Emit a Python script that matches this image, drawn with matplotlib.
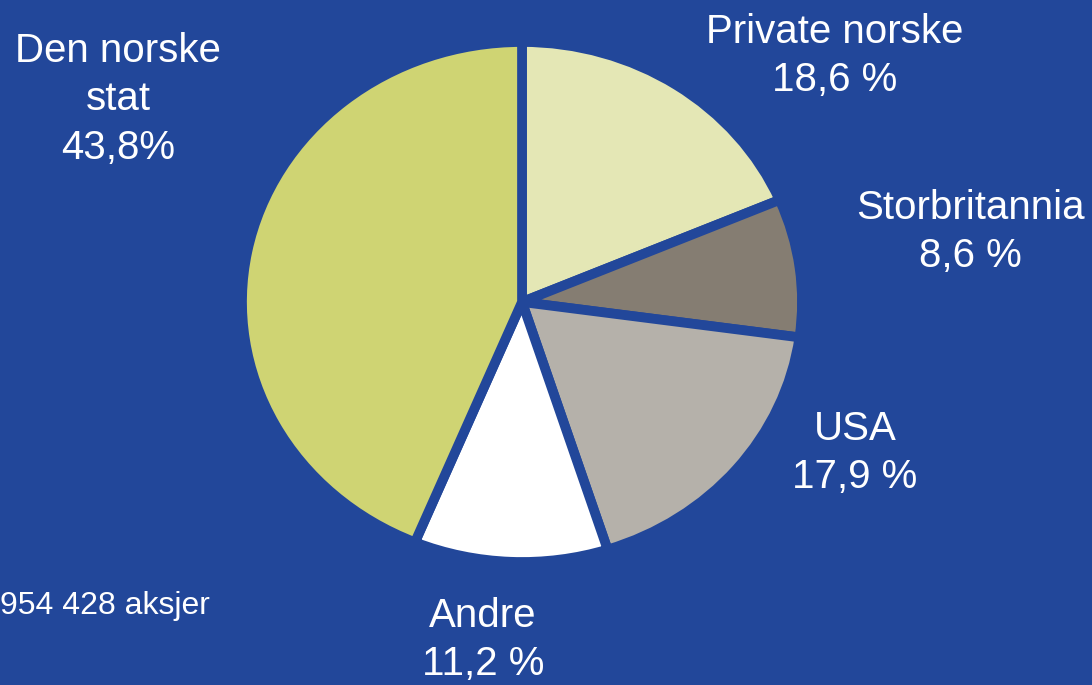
import matplotlib.pyplot as plt

# ownership shares, clockwise from the top
owners = ['Private norske', 'Storbritannia', 'USA', 'Andre', 'Den norske\nstat']
shares = [18.6, 8.6, 17.9, 11.2, 43.8]
share_labels = ['18,6 %', '8,6 %', '17,9 %', '11,2 %', '43,8%']
colors = ['#E4E7B5', '#857D72', '#B5B1AA', '#FFFFFF', '#CFD473']
footnote = '954 428 aksjer'

bg = '#22479A'
W, H = 1092, 685

fig = plt.figure(figsize=(W / 100, H / 100), dpi=100)
fig.patch.set_facecolor(bg)
plt.rcParams['font.family'] = ['Liberation Sans', 'DejaVu Sans']

# the pie is drawn as an ellipse, slightly wider than tall
cx, cy, rx, ry = 522, 302, 280, 260
ax = fig.add_axes([(cx - rx) / W, (H - cy - ry) / H, 2 * rx / W, 2 * ry / H])
ax.pie(shares, colors=colors, startangle=90, counterclock=False,
       wedgeprops=dict(edgecolor=bg, linewidth=7, joinstyle='miter'))
ax.set_aspect('auto')
ax.set_xlim(-1, 1)
ax.set_ylim(-1, 1)
ax.axis('off')

# label centres in pixels
label_pos = [(835, 56), (970, 232), (855, 453), (483, 640), (118, 99)]
for name, lab, (x, y) in zip(owners, share_labels, label_pos):
    fig.text(x / W, 1 - y / H, name + '\n' + lab, ha='center', va='center',
             color='white', fontsize=29, linespacing=1.35)

fig.text(0, 1 - 606 / H, footnote, ha='left', va='center',
         color='white', fontsize=23)

fig.savefig('out.png', dpi=100, facecolor=bg)
